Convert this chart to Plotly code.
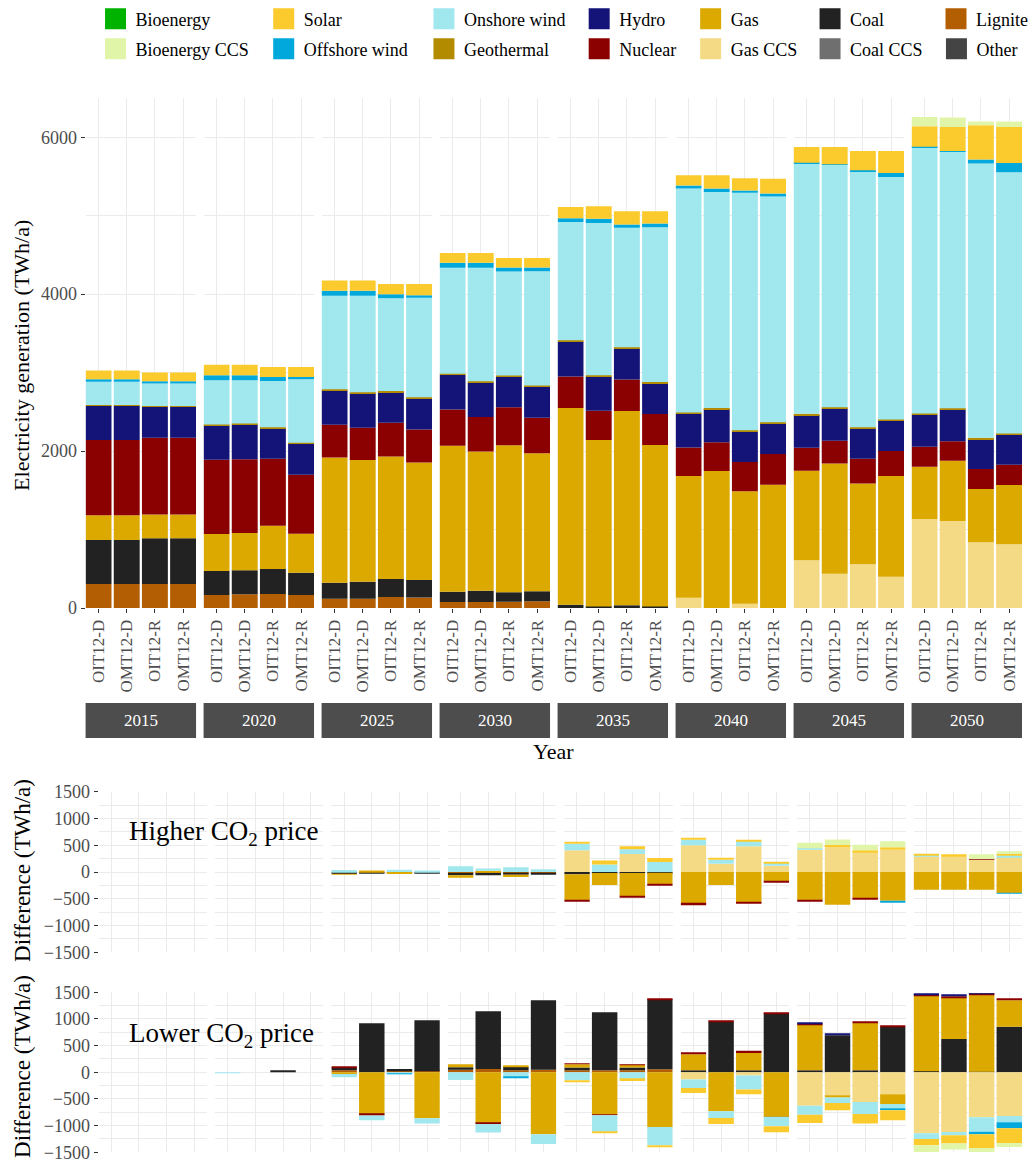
import plotly.graph_objects as go
from plotly.subplots import make_subplots

# ---------------- data ----------------
years = ["2015", "2020", "2025", "2030", "2035", "2040", "2045", "2050"]
scenarios = ["OIT12-D", "OMT12-D", "OIT12-R", "OMT12-R"]

# stacking order (first = closest to zero)
tech_names = ["Other", "Lignite", "Coal CCS", "Coal", "Gas CCS", "Gas", "Nuclear",
              "Hydro", "Geothermal", "Onshore wind", "Offshore wind", "Solar",
              "Bioenergy CCS", "Bioenergy"]
tech_colors = ["#444444", "#B35E02", "#6F6F6F", "#222222", "#F5DA85", "#DBA900",
               "#8B0000", "#131378", "#B38B00", "#A0E7EE", "#00A8DC", "#FBCB2E",
               "#E1F5A8", "#00B300"]
legend_order = ["Bioenergy", "Bioenergy CCS", "Solar", "Offshore wind", "Onshore wind",
                "Geothermal", "Hydro", "Nuclear", "Gas", "Gas CCS", "Coal", "Coal CCS",
                "Lignite", "Other"]

# Electricity generation (TWh/a); 4 scenarios per year, years 2015..2050
gen_other = [0, 0, 0, 0, 0, 0, 0, 0, 0, 0, 0, 0, 0, 0, 0, 0,
             0, 0, 0, 0, 0, 0, 0, 0, 0, 0, 0, 0, 0, 0, 0, 0]
gen_lignite = [306, 306, 306, 306, 166, 175, 178, 166, 118, 118, 140, 133, 76, 76, 81, 85,
               0, 0, 0, 0, 0, 0, 0, 0, 0, 0, 0, 0, 0, 0, 0, 0]
gen_coal_ccs = [0, 0, 0, 0, 0, 0, 0, 0, 0, 0, 0, 0, 0, 0, 0, 0,
                0, 0, 0, 0, 0, 0, 0, 0, 0, 0, 0, 0, 0, 0, 0, 0]
gen_coal = [560, 560, 582, 582, 305, 305, 319, 284, 205, 217, 229, 224, 132, 144, 119, 127,
            40, 20, 35, 20, 0, 0, 0, 0, 0, 0, 0, 0, 0, 0, 0, 0]
gen_gas_ccs = [0, 0, 0, 0, 0, 0, 0, 0, 0, 0, 0, 0, 0, 0, 0, 0,
               0, 0, 0, 0, 131, 0, 55, 0, 608, 437, 557, 399, 1134, 1108, 837, 812]
gen_gas = [315, 315, 305, 305, 472, 475, 552, 497, 1596, 1550, 1563, 1499, 1860, 1776, 1873, 1759,
           2508, 2120, 2475, 2056, 1551, 1745, 1432, 1571, 1141, 1406, 1031, 1283, 666, 769, 679, 755]
gen_nuclear = [959, 959, 977, 977, 946, 940, 853, 751, 416, 412, 429, 420, 463, 437, 484, 454,
               403, 374, 403, 395, 365, 366, 373, 391, 293, 288, 314, 318, 255, 247, 255, 258]
gen_hydro = [437, 437, 395, 395, 438, 445, 391, 395, 438, 438, 391, 395, 441, 442, 390, 395,
             446, 437, 395, 395, 429, 424, 391, 391, 417, 413, 387, 386, 408, 407, 382, 383]
gen_geothermal = [10, 10, 10, 10, 12, 12, 12, 12, 15, 15, 15, 15, 15, 15, 15, 15,
                  15, 15, 15, 15, 15, 15, 15, 15, 16, 16, 16, 16, 16, 16, 16, 16]
gen_onshore = [296, 296, 287, 287, 565, 552, 587, 812, 1191, 1229, 1182, 1267, 1348, 1445, 1327, 1458,
               1509, 1942, 1522, 1973, 2855, 2753, 3025, 2877, 3190, 3087, 3253, 3092, 3390, 3266, 3496, 3330]
gen_offshore = [34, 34, 28, 28, 64, 64, 51, 26, 63, 63, 51, 34, 64, 64, 51, 47,
                47, 52, 42, 46, 39, 43, 30, 38, 10, 10, 22, 51, 10, 10, 51, 119]
gen_solar = [111, 111, 113, 113, 132, 132, 127, 127, 132, 132, 131, 144, 127, 127, 122, 122,
             144, 161, 170, 157, 131, 170, 157, 187, 202, 220, 246, 281, 261, 308, 437, 458]
gen_bio_ccs = [0, 0, 0, 0, 0, 0, 0, 0, 0, 0, 0, 0, 0, 0, 0, 0,
               0, 0, 0, 0, 0, 0, 0, 0, 0, 0, 0, 0, 119, 121, 47, 69]
gen_bio = [0, 0, 0, 0, 0, 0, 0, 0, 0, 0, 0, 0, 0, 0, 0, 0,
           0, 0, 0, 0, 0, 0, 0, 0, 0, 0, 0, 0, 0, 0, 0, 0]

# Difference with higher CO2 price (TWh/a)
hi_other = [0] * 32
hi_lignite = [0, 0, 0, 0, 0, 0, 0, 0, 0, 0, 0, 0, -20, -20, -20, -15,
              0, 0, 0, 0, 0, 0, 0, 0, 0, 0, 0, 0, 0, 0, 0, 0]
hi_coal_ccs = [0] * 32
hi_coal = [0, 0, 0, 0, 0, 0, 0, 0, -37, -30, 0, -20, -40, -40, -30, -30,
           -40, -20, -20, -15, 0, 0, 0, 0, 0, 0, 0, 0, 0, 0, 0, 0]
hi_gas_ccs = [0, 0, 0, 0, 0, 0, 0, 0, 0, 0, 0, 0, 0, 0, 0, 0,
              405, 0, 336, 0, 498, 156, 480, 118, 417, 461, 367, 417, 293, 293, 230, 280]
hi_gas = [0, 0, 0, 0, 0, 0, 0, 0, -10, 30, -37, 0, -46, 25, -45, 0,
          -486, -224, -430, -210, -592, -243, -567, -174, -530, -611, -486, -536, -330, -330, -330, -392]
hi_nuclear = [0, 0, 0, 0, 0, 0, 0, 0, 0, 0, 0, 0, 0, 0, 0, 0,
              -30, 0, -25, -20, -30, 0, -25, -10, -10, 0, -25, 0, 0, 0, 15, 0]
hi_hydro = [0] * 32
hi_geothermal = [0] * 32
hi_onshore = [0, 0, 0, 0, 0, 0, 0, 0, 37, 0, 44, 30, 106, 40, 90, 50,
              125, 140, 87, 187, 106, 75, 93, 50, 25, 0, 0, 0, 25, 0, 0, 31]
hi_offshore = [0, 0, 0, 0, 0, 0, 0, 0, 0, 0, 0, 0, 0, 0, 0, 0,
               0, 0, 0, 0, 0, 0, 0, 0, 0, 0, 0, -40, 0, 0, 0, -12]
hi_solar = [0, 0, 0, 0, 0, 0, 0, 0, 0, 0, 0, 0, 0, 0, 0, 0,
            31, 73, 56, 75, 25, 19, 19, 10, 0, 44, 37, 44, 19, 37, 0, 31]
hi_bio_ccs = [0, 0, 0, 0, 0, 0, 0, 0, 0, 0, 0, 0, 0, 0, 0, 0,
              0, 0, 0, 0, 0, 0, 0, 0, 106, 100, 106, 112, 0, 0, 87, 44]
hi_bio = [0] * 32

# Difference with lower CO2 price (TWh/a)
lo_other = [0] * 32
lo_lignite = [0, 0, 0, 0, 0, 0, 0, 0, 37, 0, 25, 20, 50, 62, 40, 50,
              40, 37, 40, 56, 0, 0, 0, 0, 0, 0, 0, 0, 0, 0, 0, 0]
lo_coal_ccs = [0] * 32
lo_coal = [0, 0, 0, 0, 0, 0, 20, 0, 56, 919, 37, 955, 44, 1081, 60, 1300,
           50, 1087, 50, 1312, 40, 950, 37, 1106, 37, 694, 37, 850, 19, 625, 12, 856]
lo_gas_ccs = [0, 0, 0, 0, 0, 0, 0, 0, 0, 0, 0, 0, 0, 0, 0, 0,
              0, 0, 0, 0, -137, 0, -62, 0, -625, -437, -556, -412, -1144, -1119, -844, -819]
lo_gas = [0, 0, 0, 0, 0, 0, 0, 0, -31, -781, 0, -862, 56, -956, 20, -1162,
          60, -794, 50, -1025, 300, -731, 325, -825, 856, -37, 887, -181, 1412, 769, 1437, 494]
lo_nuclear = [0, 0, 0, 0, 0, 0, 0, 0, 19, -31, 0, 0, 0, -12, 0, 0,
              12, -12, 10, 19, 25, 19, 44, 19, 25, 0, 25, 25, 25, 31, 16, 19]
lo_hydro = [0, 0, 0, 0, 0, 0, 0, 0, 0, 0, 0, 0, 0, 0, 0, 0,
            0, 0, 0, 0, 0, 0, 0, 0, 19, 19, 0, 0, 19, 19, 15, 0]
lo_geothermal = [0, 0, 0, 0, 0, 0, 0, 0, 0, 0, 0, 0, 0, 0, 0, 0,
                 0, 0, 0, 0, 0, 0, 0, -12, 0, 0, 0, 0, 0, 0, 0, 0]
lo_onshore = [0, 0, 0, 0, -6, 0, 0, 0, -62, -87, -20, -100, -144, -162, -80, -181,
              -150, -312, -131, -344, -156, -125, -262, -175, -169, -100, -225, -87, -106, -62, -269, -119]
lo_offshore = [0, 0, 0, 0, 0, 0, 0, 0, 0, 0, -15, 0, 0, 0, -20, 0,
               0, 0, 0, 0, 0, 0, 0, 0, 0, 0, 0, -31, 0, 0, -50, -112]
lo_solar = [0, 0, 0, 0, 0, 0, 0, 0, 0, 0, 0, 0, 0, 0, 0, 0,
            -31, -19, -31, -19, -94, -112, -87, -112, -156, -137, -181, -187, -119, -156, -256, -275]
lo_bio_ccs = [0, 0, 0, 0, 0, 0, 0, 0, 0, 0, 0, 0, 0, 0, 0, 0,
              0, 0, 0, 0, 0, 0, 0, 0, 0, 0, 0, 0, -125, -112, -75, -75]
lo_bio = [0] * 32

gen_rows = [gen_other, gen_lignite, gen_coal_ccs, gen_coal, gen_gas_ccs, gen_gas, gen_nuclear,
            gen_hydro, gen_geothermal, gen_onshore, gen_offshore, gen_solar, gen_bio_ccs, gen_bio]
hi_rows = [hi_other, hi_lignite, hi_coal_ccs, hi_coal, hi_gas_ccs, hi_gas, hi_nuclear,
           hi_hydro, hi_geothermal, hi_onshore, hi_offshore, hi_solar, hi_bio_ccs, hi_bio]
lo_rows = [lo_other, lo_lignite, lo_coal_ccs, lo_coal, lo_gas_ccs, lo_gas, lo_nuclear,
           lo_hydro, lo_geothermal, lo_onshore, lo_offshore, lo_solar, lo_bio_ccs, lo_bio]
panels = [gen_rows, hi_rows, lo_rows]

# ---------------- layout helpers ----------------
W, H = 1033, 1163
FONT = "Liberation Serif"
GRID = "#EBEBEB"
TXT = "#4D4D4D"


def px_x(p):
    return p / W


def px_y(p):
    return 1 - p / H


top_x0 = [86 + i * 118.57 for i in range(8)]
top_w = 111
low_x0 = [99 + i * 117 for i in range(8)]
low_w = 109
row_y = [(98, 608), (791.7, 952.3), (992.3, 1152.3)]
row_range = [[0, 6500], [-1500, 1500], [-1500, 1500]]

fig = make_subplots(rows=3, cols=8)

legend_ids = {}
for i, name in enumerate(legend_order):
    legend_ids[name] = "legend" if i == 0 else f"legend{i + 1}"

for r, rows in enumerate(panels):
    for c in range(8):
        for k, name in enumerate(tech_names):
            fig.add_trace(
                go.Bar(
                    x=scenarios,
                    y=rows[k][4 * c:4 * c + 4],
                    name=name,
                    marker=dict(color=tech_colors[k], line=dict(width=0)),
                    showlegend=False,
                    hovertemplate=name + ": %{y}<extra></extra>",
                ),
                row=r + 1, col=c + 1,
            )

# legend keys (square swatches, no data drawn)
for k, name in enumerate(tech_names):
    fig.add_trace(
        go.Scatter(
            x=[None], y=[None], mode="markers", name=name,
            marker=dict(symbol="square", size=16, color=tech_colors[k],
                        line=dict(width=5, color=tech_colors[k])),
            legend=legend_ids[name], showlegend=True, hoverinfo="skip",
        ),
        row=1, col=1,
    )

fig.update_layout(template="none", barmode="relative", bargap=0.08)

for r in range(3):
    for c in range(8):
        if r == 0:
            xd = [px_x(top_x0[c]), px_x(top_x0[c] + top_w)]
        else:
            xd = [px_x(low_x0[c]), px_x(low_x0[c] + low_w)]
        yd = [px_y(row_y[r][1]), px_y(row_y[r][0])]
        fig.update_xaxes(
            domain=xd, range=[-0.46, 3.46], type="category", automargin=False,
            showgrid=True, gridcolor=GRID, gridwidth=1, zeroline=False, showline=False,
            showticklabels=(r == 0), tickangle=-90,
            tickfont=dict(family=FONT, size=17, color=TXT),
            ticks="outside" if r == 0 else "", ticklen=4, tickcolor="#333333",
            row=r + 1, col=c + 1,
        )
        if r == 0:
            ya = dict(tickvals=[0, 2000, 4000, 6000], minor=dict(dtick=1000, showgrid=True,
                                                                  gridcolor=GRID, gridwidth=0.6))
        else:
            ya = dict(tickvals=[-1500, -1000, -500, 0, 500, 1000, 1500],
                      minor=dict(dtick=250, showgrid=True, gridcolor=GRID, gridwidth=0.6))
        fig.update_yaxes(
            domain=yd, range=row_range[r], automargin=False, showgrid=True, gridcolor=GRID,
            gridwidth=1, zeroline=False, showline=False, showticklabels=(c == 0),
            ticks="outside" if c == 0 else "", ticklen=4, tickcolor="#333333",
            tickfont=dict(family=FONT, size=18, color=TXT),
            row=r + 1, col=c + 1, **ya,
        )

# strips
shapes = []
annotations = []
for c in range(8):
    n = c + 1
    xref = "x domain" if n == 1 else f"x{n} domain"
    shapes.append(dict(type="rect", xref=xref, yref="paper", x0=0, x1=1,
                       y0=px_y(738), y1=px_y(703), fillcolor="#4D4D4D", line=dict(width=0),
                       layer="above"))
    annotations.append(dict(xref=xref, yref="paper", x=0.5, y=px_y(720.5), text=years[c],
                            showarrow=False, font=dict(family=FONT, size=17, color="white"),
                            xanchor="center", yanchor="middle"))

annotations += [
    dict(xref="paper", yref="paper", x=px_x(556), y=px_y(751), text="Year", showarrow=False,
         font=dict(family=FONT, size=22, color="black"), xanchor="center", yanchor="middle"),
    dict(xref="paper", yref="paper", x=px_x(22), y=px_y(355), text="Electricity generation (TWh/a)",
         textangle=-90, showarrow=False, font=dict(family=FONT, size=22, color="black"),
         xanchor="center", yanchor="middle"),
    dict(xref="paper", yref="paper", x=px_x(22), y=px_y(870), text="Difference (TWh/a)",
         textangle=-90, showarrow=False, font=dict(family=FONT, size=23, color="black"),
         xanchor="center", yanchor="middle"),
    dict(xref="paper", yref="paper", x=px_x(22), y=px_y(1066), text="Difference (TWh/a)",
         textangle=-90, showarrow=False, font=dict(family=FONT, size=23, color="black"),
         xanchor="center", yanchor="middle"),
    dict(xref="paper", yref="paper", x=px_x(128), y=px_y(833), text="Higher CO<sub>2</sub> price",
         showarrow=False, font=dict(family=FONT, size=27, color="black"),
         xanchor="left", yanchor="middle"),
    dict(xref="paper", yref="paper", x=px_x(128), y=px_y(1035), text="Lower CO<sub>2</sub> price",
         showarrow=False, font=dict(family=FONT, size=27, color="black"),
         xanchor="left", yanchor="middle"),
]

# legends: 7 columns x 2 rows, each entry its own legend
text_x = [136, 305, 466, 622, 734, 854, 981]
row_cy = [19, 49]
legends = {}
for i, name in enumerate(legend_order):
    col, row = divmod(i, 2)
    key = "legend" if i == 0 else f"legend{i + 1}"
    legends[key] = dict(x=px_x(text_x[col] - 40), y=px_y(row_cy[row]), xanchor="left",
                        yanchor="middle", bgcolor="rgba(0,0,0,0)", borderwidth=0,
                        font=dict(family=FONT, size=18, color="black"))

fig.update_layout(
    width=W, height=H, margin=dict(l=0, r=0, t=0, b=0, pad=0),
    paper_bgcolor="white", plot_bgcolor="white",
    font=dict(family=FONT, color="black"),
    shapes=shapes, annotations=annotations, **legends,
)

fig.write_html("out.html", config={"displayModeBar": False},
               post_script="document.body.style.margin='0';document.body.style.overflow='hidden';")
